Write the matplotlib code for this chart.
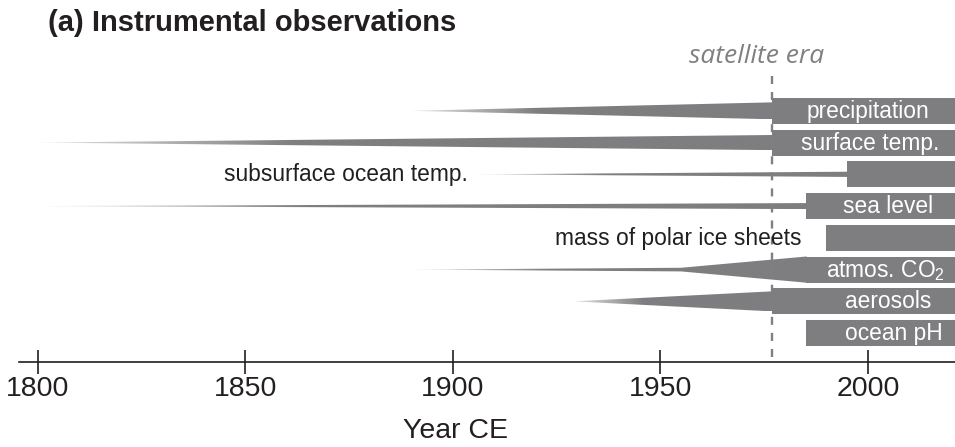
import matplotlib.pyplot as plt
import numpy as np
from matplotlib.patches import Polygon
from matplotlib.colors import LinearSegmentedColormap

plt.rcParams['font.family'] = ['Liberation Sans', 'DejaVu Sans']
plt.rcParams['mathtext.default'] = 'regular'

# data
labels = ['precipitation', 'surface temp.', 'subsurface ocean temp.', 'sea level',
          'mass of polar ice sheets', 'atmos. CO$_2$', 'aerosols', 'ocean pH']
wedge_start = [1890, 1800, 1905, 1800, np.nan, 1890, 1929, np.nan]   # first sparse obs
bar_start = [1977, 1977, 1995, 1985, 1990, 1985, 1977, 1985]         # full coverage
wedge_end_frac = [0.65, 0.58, 0.2, 0.23, 0.0, 1.0, 0.77, 0.0]        # wedge width at bar start
co2_kink_year = 1955
co2_kink_frac = 0.14
label_inside = [True, True, False, True, False, True, True, True]
label_x = [2000, 2000.5, 1903.6, 2004.8, 1984.1, 2004.3, 2005, 2006.3]
satellite_year = 1977
year_ticks = [1800, 1850, 1900, 1950, 2000]

gray = '#7e7e81'
dark = '#231f20'
bar_h = 0.82
grad_cmap = LinearSegmentedColormap.from_list('fade', ['#e4e4e4', gray])

fig = plt.figure(figsize=(9.55, 4.47), dpi=100)
ax = fig.add_axes([0, 0, 1, 1])

rows = np.arange(len(labels))
x_right = 2030

# full-coverage bars
ax.barh(rows, [x_right - b for b in bar_start], left=bar_start, height=bar_h,
        color=gray, edgecolor='none', zorder=2)

# wedges with a fade towards the first year
for i, y in enumerate(rows):
    x0 = wedge_start[i]
    if np.isnan(x0):
        continue
    x1 = bar_start[i]
    h = wedge_end_frac[i] * bar_h / 2
    if i == 5:
        hk = co2_kink_frac * bar_h / 2
        pts = [(x0, y), (co2_kink_year, y - hk), (x1, y - h), (x1 + 0.3, y - h),
               (x1 + 0.3, y + h), (x1, y + h), (co2_kink_year, y + hk)]
    else:
        pts = [(x0, y), (x1, y - h), (x1 + 0.3, y - h), (x1 + 0.3, y + h), (x1, y + h)]
    poly = Polygon(pts, closed=True, facecolor='none', edgecolor='none')
    ax.add_patch(poly)
    grad = np.clip(np.linspace(0, 1, 300) / 0.35, 0, 1)[None, :]
    im = ax.imshow(grad, extent=(x0, x1 + 0.3, y + h, y - h), aspect='auto',
                   cmap=grad_cmap, vmin=0, vmax=1, interpolation='bilinear', zorder=2)
    im.set_clip_path(poly)

# labels
for i, y in enumerate(rows):
    if label_inside[i]:
        ax.text(label_x[i], y + 0.02, labels[i], color='white', fontsize=16.4,
                ha='center', va='center', zorder=4)
    else:
        ax.text(label_x[i], y + 0.02, labels[i], color=dark, fontsize=16.4,
                ha='right', va='center', zorder=4)

# satellite era marker
axis_row = 7.91
ax.vlines(satellite_year, -1.1, axis_row, colors='#808080',
          linestyles=(0, (3.4, 3.4)), linewidth=1.7, zorder=3)
ax.text(1973.3, -1.52, 'satellite era', family=['Open Sans', 'DejaVu Sans'],
        style='italic', fontsize=19, color='#808080', ha='center', va='baseline')

# x axis
ax.set_xlim(1790.9, 2021.0)
ax.set_ylim(10.586, -3.489)
for s in ['top', 'right', 'left']:
    ax.spines[s].set_visible(False)
ax.spines['bottom'].set_position(('data', axis_row))
ax.spines['bottom'].set_bounds(1795.5, 2025)
ax.spines['bottom'].set_color(dark)
ax.spines['bottom'].set_linewidth(1.2)
ax.set_yticks([])
ax.set_xticks(year_ticks)
ax.tick_params(axis='x', direction='inout', length=17, width=1.2, color=dark,
               labelsize=20.5, labelcolor=dark, pad=1.5)
ax.set_xlabel('Year CE', fontsize=20.5, color=dark)
ax.xaxis.set_label_coords(455 / 955, (447 - 418) / 447)
ax.patch.set_alpha(0)

fig.text(48 / 955, 1 - 9 / 447, '(a) Instrumental observations', fontsize=21,
         fontweight='bold', color=dark, ha='left', va='top')

fig.savefig('out.png', dpi=100)
